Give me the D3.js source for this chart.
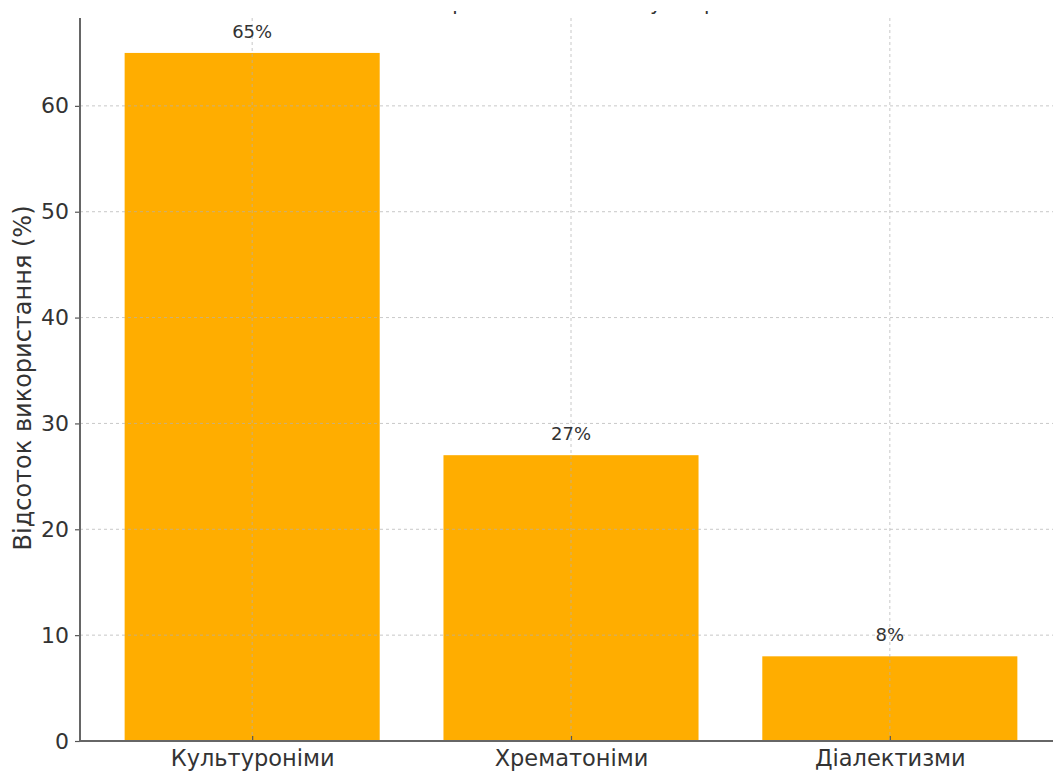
<!DOCTYPE html>
<html><head><meta charset="utf-8">
<script src="https://cdn.jsdelivr.net/npm/d3@7"></script>
<style>body{margin:0;background:#fff}svg{display:block}</style>
</head><body>
<svg id="c" width="1053" height="775"></svg>
<script>
const categories = ["Культуроніми", "Хрематоніми", "Діалектизми"];
const values = [65, 27, 8];
const valueLabels = ["65%", "27%", "8%"];
const yTicks = [0, 10, 20, 30, 40, 50, 60];
const yLabel = "Відсоток використання (%)";
const title = "Використання лексики у творах";

const svg = d3.select("#c");
const font = "DejaVu Sans, sans-serif";
const x0 = 80, x1 = 1062, yTop = 18, yBot = 741;
const x = d3.scaleLinear().domain([-0.54, 2.54]).range([x0, x1]);
const y = d3.scaleLinear().domain([0, 68.3]).range([yBot, yTop]);
const bw = x(0.4) - x(-0.4);

// title: only its lowest strokes show, as in the reference
svg.append("clipPath").attr("id", "tclip").append("rect")
  .attr("x", 0).attr("y", 11).attr("width", 1053).attr("height", 6);
svg.append("text").attr("clip-path", "url(#tclip)").attr("x", x(1)).attr("y", 10).attr("text-anchor", "middle")
  .attr("font-family", font).attr("font-size", 20).attr("fill", "#333").text(title);

// bars
svg.selectAll("rect.bar").data(values).join("rect").attr("class", "bar")
  .attr("x", (d, i) => x(i) - bw / 2).attr("width", bw)
  .attr("y", d => y(d)).attr("height", d => yBot - y(d))
  .attr("fill", "#ffad00");

// grid
const g = svg.append("g").attr("stroke", "#b0b0b0").attr("stroke-opacity", 0.7)
  .attr("stroke-width", 1).attr("stroke-dasharray", "3,3");
g.selectAll("line.h").data(yTicks.slice(1)).join("line").attr("class", "h")
  .attr("x1", x0).attr("x2", 1053).attr("y1", d => y(d)).attr("y2", d => y(d));
g.selectAll("line.v").data(categories).join("line").attr("class", "v")
  .attr("x1", (d, i) => x(i)).attr("x2", (d, i) => x(i)).attr("y1", yTop).attr("y2", yBot);

// axes
const yAxis = d3.axisLeft(y).tickValues(yTicks).tickSize(5).tickPadding(6);
const ya = svg.append("g").attr("transform", `translate(${x0},0)`).call(yAxis);
ya.select(".domain").remove();
ya.selectAll("line").attr("stroke", "#555").attr("stroke-width", 1.2);
ya.selectAll("text").attr("font-family", font).attr("font-size", 22).attr("fill", "#333");

const xAxis = d3.axisBottom(x).tickValues([0, 1, 2]).tickFormat((d) => categories[d]).tickSize(5).tickPadding(4);
const xa = svg.append("g").attr("transform", `translate(0,${yBot})`).call(xAxis);
xa.select(".domain").remove();
xa.selectAll("line").attr("stroke", "#555").attr("stroke-width", 1.2).attr("transform", "translate(0,-5)");
xa.selectAll("text").attr("font-family", font).attr("font-size", 22.5).attr("fill", "#333");

svg.append("line").attr("x1", x0).attr("x2", x0).attr("y1", yTop).attr("y2", yBot + 1)
  .attr("stroke", "#666").attr("stroke-width", 2);
svg.append("line").attr("x1", x0).attr("x2", 1053).attr("y1", yBot).attr("y2", yBot)
  .attr("stroke", "#666").attr("stroke-width", 2);

// value labels
svg.selectAll("text.vl").data(values).join("text").attr("class", "vl")
  .attr("x", (d, i) => x(i)).attr("y", d => y(d) - 15).attr("text-anchor", "middle")
  .attr("font-family", font).attr("font-size", 18).attr("fill", "#333")
  .text((d, i) => valueLabels[i]);

// y label
svg.append("text").attr("transform", `translate(31,378) rotate(-90)`)
  .attr("text-anchor", "middle").attr("font-family", font).attr("font-size", 24).attr("fill", "#333")
  .text(yLabel);
</script>
</body></html>
